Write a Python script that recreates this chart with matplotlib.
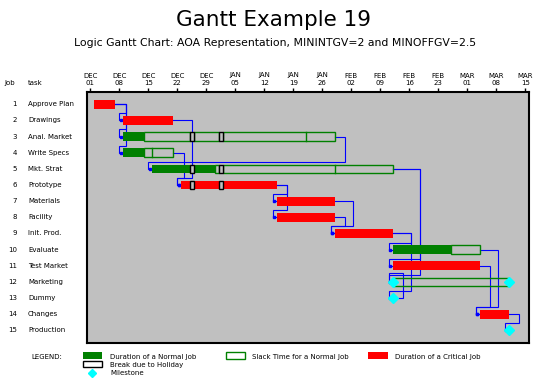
import datetime as dt
import numpy as np
import matplotlib
matplotlib.use("Agg")
import matplotlib.pyplot as plt
from matplotlib.patches import Rectangle
from matplotlib import transforms

# project data (AOA widget project), dates as SAS style DDMONYY
jobs = list(range(1, 16))
tasks = ["Approve Plan", "Drawings", "Anal. Market", "Write Specs", "Mkt. Strat",
         "Prototype", "Materials", "Facility", "Init. Prod.", "Evaluate",
         "Test Market", "Marketing", "Dummy", "Changes", "Production"]
days = [5, 10, 5, 5, 10, 15, 10, 10, 10, 10, 15, 0, 0, 5, 0]
critical = [1, 1, 0, 0, 0, 1, 1, 1, 1, 0, 1, 0, 1, 1, 1]
e_start = ["02DEC91", "09DEC91", "09DEC91", "09DEC91", "16DEC91", "23DEC91",
           "15JAN92", "15JAN92", "29JAN92", "12FEB92", "12FEB92", "12FEB92",
           "12FEB92", "04MAR92", "11MAR92"]
e_finish = ["06DEC91", "20DEC91", "13DEC91", "13DEC91", "30DEC91", "14JAN92",
            "28JAN92", "28JAN92", "11FEB92", "25FEB92", "03MAR92", "12FEB92",
            "12FEB92", "10MAR92", "11MAR92"]
l_start = ["02DEC91", "09DEC91", "22JAN92", "16DEC91", "29JAN92", "23DEC91",
           "15JAN92", "15JAN92", "29JAN92", "19FEB92", "12FEB92", "11MAR92",
           "12FEB92", "04MAR92", "11MAR92"]
l_finish = ["06DEC91", "20DEC91", "28JAN92", "20DEC91", "11FEB92", "14JAN92",
            "28JAN92", "28JAN92", "11FEB92", "03MAR92", "03MAR92", "11MAR92",
            "12FEB92", "10MAR92", "11MAR92"]
holidays = ["25DEC91", "01JAN92"]
# precedence links, job numbers
pred = [1, 1, 1, 2, 4, 3, 6, 6, 7, 8, 9, 9, 5, 5, 13, 10, 11, 14]
succ = [2, 3, 4, 6, 6, 5, 7, 8, 9, 9, 10, 13, 11, 12, 12, 14, 14, 15]

origin = dt.datetime(1991, 12, 1)


def day(s):
    return (dt.datetime.strptime(s, "%d%b%y") - origin).days


dur = np.array(days)
es = np.array([day(s) for s in e_start])
ef = np.array([day(s) for s in e_finish]) + (dur > 0)
ls = np.array([day(s) for s in l_start])
lf = np.array([day(s) for s in l_finish]) + (dur > 0)
hol = [day(s) for s in holidays]

BG = "#c0c0c0"
GREEN = "#008000"
RED = "#ff0000"
BLUE = "#0000ff"
CYAN = "#00ffff"
H = 0.54  # bar height in rows

fig = plt.figure(figsize=(5.46, 3.80), dpi=100)
W, HT = 546, 380
ax = fig.add_axes([87 / W, 1 - 343 / HT, (529 - 87) / W, (343 - 92) / HT])
ax.set_facecolor(BG)
ax.set_xlim(-0.8, 105.9)
ax.set_ylim(15.78, 0.24)
for sp in ax.spines.values():
    sp.set_linewidth(1.5)


def pieces(a, b):
    out, cur = [], a
    for h in hol:
        if a <= h < b:
            if h > cur:
                out.append((cur, h))
            cur = h + 1
    if b > cur:
        out.append((cur, b))
    return out


# bars
for i, y in enumerate(jobs):
    if dur[i] > 0:
        col = RED if critical[i] else GREEN
        for a, b in pieces(es[i], ef[i]):
            ax.add_patch(Rectangle((a, y - H / 2), b - a, H, fc=col, ec="none", zorder=3))
    if lf[i] > ef[i]:
        for a, b in pieces(ef[i], lf[i]):
            ax.add_patch(Rectangle((a, y - H / 2), b - a, H, fc="none", ec=GREEN,
                                   lw=1.0, zorder=3))
        if ef[i] < ls[i] < lf[i]:
            ax.plot([ls[i], ls[i]], [y - H / 2, y + H / 2], color=GREEN, lw=1.0, zorder=3)
    for h in hol:
        if es[i] <= h < lf[i]:
            ax.add_patch(Rectangle((h, y - H / 2), 1, H, fc=BG, ec="black", lw=1.0, zorder=4))
    if dur[i] == 0:
        pts = [es[i]] + ([lf[i]] if lf[i] > es[i] else [])
        ax.plot(pts, [y] * len(pts), "D", color=CYAN, ms=5, mec=CYAN, zorder=6)

# global verticals: lane per predecessor
span = {}
for p, s in zip(pred, succ):
    lo, hi = span.get(p, (p, p))
    span[p] = (min(lo, s), max(hi, s))
lanes, used = {}, []
for p in sorted(span, key=lambda j: (lf[j - 1], -j)):
    k = 0
    while any(u[0] == lf[p - 1] and u[1] == k and not (span[p][1] < u[2][0] or span[p][0] > u[2][1])
              for u in used):
        k += 1
    lanes[p] = k
    used.append((lf[p - 1], k, span[p]))

for p, s in zip(pred, succ):
    x0 = lf[p - 1]
    xv = x0 + 2.5 + 2 * lanes[p]
    yh = s - 0.44 if s > p else s - 0.56
    xs = es[s - 1]
    xl = xs - 1.0
    ax.plot([x0, xv, xv, xl, xl, xs], [p, p, yh, yh, s, s], color=BLUE, lw=0.8,
            zorder=2, solid_joinstyle="miter")
    ax.plot(xs - 0.55, s, "s", color=BLUE, ms=2, zorder=2)

# axis ticks on top
ticks = [origin + dt.timedelta(days=7 * k) for k in range(16)]
ax.xaxis.tick_top()
ax.set_xticks([(t - origin).days for t in ticks])
ax.set_xticklabels([t.strftime("%b\n%d").upper() for t in ticks], fontsize=5, linespacing=1.25)
ax.tick_params(axis="x", direction="out", length=3, width=1, pad=1.5)
ax.set_yticks([])

# overlay in pixel coordinates for labels and legend
lay = fig.add_axes([0, 0, 1, 1], zorder=-1)
lay.set_xlim(0, W)
lay.set_ylim(HT, 0)
lay.axis("off")
rowtr = transforms.blended_transform_factory(lay.transData, ax.transData)
for j, t in zip(jobs, tasks):
    lay.text(17, j, str(j), transform=rowtr, ha="right", va="center", fontsize=5)
    lay.text(28, j, t, transform=rowtr, ha="left", va="center", fontsize=5)
lay.text(4, 83, "Job", ha="left", va="center", fontsize=5)
lay.text(28, 83, "task", ha="left", va="center", fontsize=5)

lay.text(273, 26, "Gantt Example 19", ha="center", va="baseline", fontsize=15.5)
lay.text(275, 46.5, "Logic Gantt Chart: AOA Representation, MININTGV=2 and MINOFFGV=2.5",
         ha="center", va="baseline", fontsize=7.8)

# legend
lay.text(31, 357, "LEGEND:", ha="left", va="center", fontsize=5)
lay.add_patch(Rectangle((83, 351.5), 19, 7, fc=GREEN, ec="none"))
lay.text(110, 357, "Duration of a Normal Job", ha="left", va="center", fontsize=5)
lay.add_patch(Rectangle((83, 360.5), 19, 6, fc="white", ec="black", lw=1.0))
lay.text(110, 365, "Break due to Holiday", ha="left", va="center", fontsize=5)
lay.plot([92.3], [372.5], "D", color=CYAN, ms=4.5, mec=CYAN)
lay.text(110, 373.3, "Milestone", ha="left", va="center", fontsize=5)
lay.add_patch(Rectangle((225.5, 351.5), 19, 7, fc="none", ec=GREEN, lw=1.0))
lay.text(252.5, 357, "Slack Time for a Normal Job", ha="left", va="center", fontsize=5)
lay.add_patch(Rectangle((368, 351.5), 19.5, 7, fc=RED, ec="none"))
lay.text(395, 357, "Duration of a Critical Job", ha="left", va="center", fontsize=5)

fig.savefig("out.png", dpi=100)
